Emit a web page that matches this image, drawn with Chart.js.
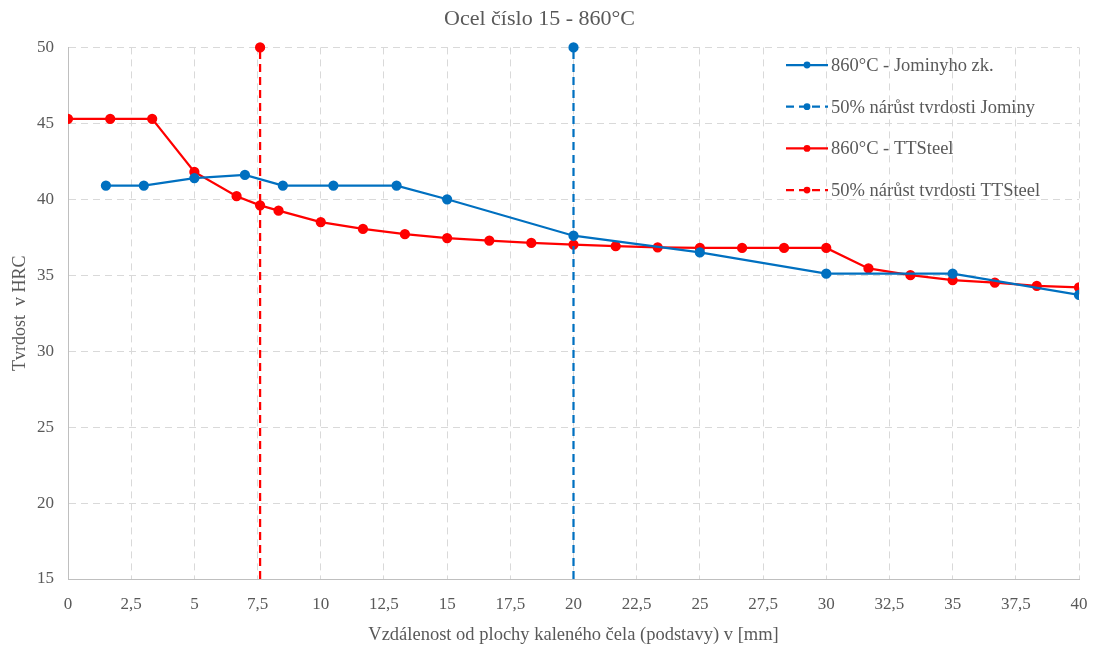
<!DOCTYPE html>
<html>
<head>
<meta charset="utf-8">
<script src="https://cdn.jsdelivr.net/npm/chart.js@4"></script>
<style>
  body { margin: 0; background: #fff; }
  #wrap { width: 1098px; height: 646px; }
</style>
</head>
<body>
<div id="wrap"><canvas id="chart" width="1098" height="646"></canvas></div>
<script>
// Jominy test at 860°C
const jominyDist = [1.5, 3, 5, 7, 8.5, 10.5, 13, 15, 20, 25, 30, 35, 40];
const jominyHrc = [40.9, 40.9, 41.4, 41.6, 40.9, 40.9, 40.9, 40.0, 37.6, 36.5, 35.1, 35.1, 33.7];

// TTSteel prediction at 860°C
const ttDist = [0, 1.67, 3.33, 5, 6.67, 7.6, 8.33, 10, 11.67, 13.33, 15, 16.67, 18.33, 20,
  21.67, 23.33, 25, 26.67, 28.33, 30, 31.67, 33.33, 35, 36.67, 38.33, 40];
const ttHrc = [45.3, 45.3, 45.3, 41.8, 40.2, 39.6, 39.25, 38.5, 38.05, 37.7, 37.45, 37.28, 37.13, 37.02,
  36.91, 36.84, 36.8, 36.8, 36.8, 36.8, 35.45, 35.0, 34.67, 34.52, 34.3, 34.2];

// 50% hardness limit positions
const jominyHalf = 20;
const ttHalf = 7.6;
const hrcRange = [15, 50];

const BLUE = '#0070C0';
const RED = '#FF0000';
const TEXT = '#595959';
const FONT = '"Liberation Serif", "Times New Roman", serif';

const toPts = (xs, ys) => xs.map((x, i) => ({ x: x, y: ys[i] }));
const vline = x => hrcRange.map(y => ({ x: x, y: y }));

// legend drawn inside the plot, top right
const innerLegend = {
  id: 'innerLegend',
  afterDraw(chart) {
    const ctx = chart.ctx;
    const x0 = 786, y0 = 65, step = 41.7;
    ctx.save();
    ctx.font = '18.5px ' + FONT;
    ctx.textBaseline = 'middle';
    chart.data.datasets.forEach((ds, i) => {
      const y = y0 + i * step;
      ctx.strokeStyle = ds.borderColor;
      ctx.lineWidth = 2.25;
      ctx.setLineDash(ds.borderDash || []);
      ctx.beginPath();
      ctx.moveTo(x0, y);
      ctx.lineTo(x0 + 42, y);
      ctx.stroke();
      ctx.setLineDash([]);
      ctx.fillStyle = ds.borderColor;
      ctx.beginPath();
      ctx.arc(x0 + 21, y, 3.4, 0, Math.PI * 2);
      ctx.fill();
      ctx.fillStyle = TEXT;
      ctx.fillText(ds.label, x0 + 45, y + 1);
    });
    ctx.restore();
  }
};

new Chart(document.getElementById('chart'), {
  type: 'line',
  data: {
    datasets: [
      {
        label: '860°C - Jominyho zk.',
        data: toPts(jominyDist, jominyHrc),
        borderColor: BLUE, backgroundColor: BLUE,
        borderWidth: 2.25, pointRadius: 4, pointHoverRadius: 4
      },
      {
        label: '50% nárůst tvrdosti Jominy',
        data: vline(jominyHalf),
        borderColor: BLUE, backgroundColor: BLUE,
        borderWidth: 2.25, borderDash: [8, 5], pointRadius: [0, 4], clip: 8
      },
      {
        label: '860°C - TTSteel',
        data: toPts(ttDist, ttHrc),
        borderColor: RED, backgroundColor: RED,
        borderWidth: 2.25, pointRadius: 4, pointHoverRadius: 4
      },
      {
        label: '50% nárůst tvrdosti TTSteel',
        data: vline(ttHalf),
        borderColor: RED, backgroundColor: RED,
        borderWidth: 2.25, borderDash: [8, 5], pointRadius: [0, 4], clip: 8
      }
    ]
  },
  options: {
    responsive: false,
    animation: false,
    layout: { padding: { left: 0, right: 19, top: 0, bottom: 0 } },
    plugins: {
      legend: { display: false },
      tooltip: { enabled: false },
      title: {
        display: true,
        text: 'Ocel číslo 15 - 860°C',
        color: TEXT,
        font: { family: FONT, size: 22, weight: 'normal' },
        padding: { top: 6, bottom: 15 }
      }
    },
    scales: {
      x: {
        type: 'linear', min: 0, max: 40,
        ticks: {
          stepSize: 2.5, color: TEXT, padding: 15,
          font: { family: FONT, size: 17 },
          callback: v => String(v).replace('.', ',')
        },
        grid: { color: '#d9d9d9', drawTicks: false },
        border: { color: '#bfbfbf', dash: [7, 5] },
        title: {
          display: true, text: 'Vzdálenost od plochy kaleného čela (podstavy) v [mm]',
          color: TEXT, font: { family: FONT, size: 18.5 }, padding: { top: 16, bottom: 0 }
        },
        afterFit: s => { s.height = 67; s.paddingLeft = 0; s.paddingRight = 0; }
      },
      y: {
        min: 15, max: 50,
        ticks: {
          stepSize: 5, color: TEXT, padding: 14,
          font: { family: FONT, size: 17 }
        },
        grid: { color: '#d9d9d9', drawTicks: false },
        border: { color: '#bfbfbf', dash: [7, 5] },
        title: {
          display: true, text: 'Tvrdost  v HRC',
          color: TEXT, font: { family: FONT, size: 18 }, padding: { top: 9, bottom: 0 }
        },
        afterFit: s => { s.width = 68; }
      }
    }
  },
  plugins: [innerLegend]
});
</script>
</body>
</html>
